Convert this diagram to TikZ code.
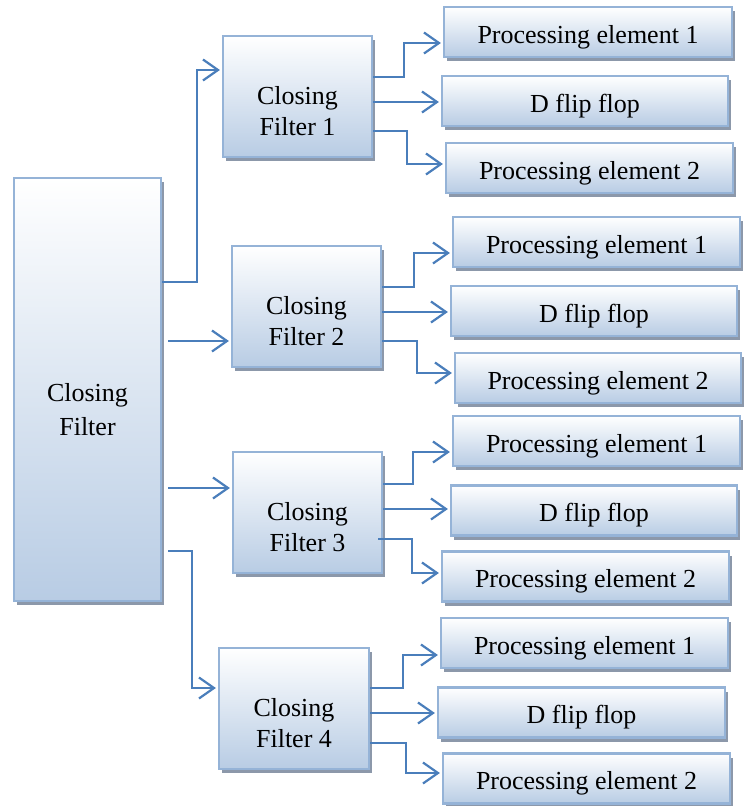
\documentclass[tikz,border=0pt]{standalone}
\usepackage{fontspec}
\setmainfont{Liberation Serif}
\usetikzlibrary{arrows.meta,shadows,calc}

\definecolor{bordcol}{RGB}{149,179,215}
\definecolor{fillbot}{RGB}{184,204,228}
\definecolor{shadcol}{RGB}{140,152,170}
\definecolor{conncol}{RGB}{74,126,187}

\tikzset{
  box/.style={draw=bordcol, line width=2.2pt, top color=white, bottom color=fillbot,
    drop shadow={shadow xshift=3pt, shadow yshift=-4pt, fill=shadcol, opacity=1},
    inner sep=0pt},
  fbox/.style={box, minimum width=149pt, minimum height=121pt},
  pbox/.style={box, minimum width=287pt, minimum height=50pt},
  lbl/.style={font=\fontsize{26}{31}\selectfont, align=center, text=black, inner sep=0pt},
  flbl/.style={label={[lbl,yshift=-15pt]center:{#1}}},
  plbl/.style={label={[lbl,yshift=-5pt]center:{#1}}},
  conn/.style={draw=conncol, line width=2.2pt, shorten >=2pt,
    -{Straight Barb[length=15pt,width=21pt,line width=2.2pt]}},
}

\begin{document}
\begin{tikzpicture}[x=1pt,y=-1pt]
\useasboundingbox (0,0) rectangle (745,806);

% main box
\node[box, minimum width=147pt, minimum height=423pt,
  label={[lbl,font=\fontsize{26}{34}\selectfont,yshift=-20pt]center:{Closing\\Filter}}]
  (main) at (87.5,389.5) {};

% closing filters
\node[fbox, flbl={Closing\\Filter 1}] (f1) at (297.5,96.5) {};
\node[fbox, flbl={Closing\\Filter 2}] (f2) at (306.5,306.5) {};
\node[fbox, flbl={Closing\\Filter 3}] (f3) at (307.5,512.5) {};
\node[fbox, minimum width=150pt, flbl={Closing\\Filter 4}] (f4) at (294,708.5) {};

% group 1
\node[pbox, minimum width=288pt, plbl={Processing element 1}] (p11) at (588,32) {};
\node[pbox, minimum width=286pt, plbl={D flip flop}] (d1) at (585,101) {};
\node[pbox, plbl={Processing element 2}] (p12) at (589.5,168) {};
% group 2
\node[pbox, plbl={Processing element 1}] (p21) at (596.5,242) {};
\node[pbox, minimum width=286pt, plbl={D flip flop}] (d2) at (594,311) {};
\node[pbox, minimum width=286pt, plbl={Processing element 2}] (p22) at (598,378) {};
% group 3
\node[pbox, plbl={Processing element 1}] (p31) at (596.5,441) {};
\node[pbox, minimum width=286pt, plbl={D flip flop}] (d3) at (594,510.5) {};
\node[pbox, plbl={Processing element 2}] (p32) at (585.5,576.5) {};
% group 4
\node[pbox, plbl={Processing element 1}] (p41) at (584.5,643) {};
\node[pbox, plbl={D flip flop}] (d4) at (581.5,712.5) {};
\node[pbox, plbl={Processing element 2}] (p42) at (586.5,778.5) {};

% main -> filters
\draw[conn] (main.east |- 0,282) -- (197,282) |- (f1.west |- 0,70);
\draw[conn] ([xshift=6pt]main.east |- 0,341) -- (f2.west |- 0,341);
\draw[conn] ([xshift=6pt]main.east |- 0,488) -- (f3.west |- 0,488);
\draw[conn] ([xshift=6pt]main.east |- 0,551) -- (192,551) |- (f4.west |- 0,688);

% filter 1 outputs
\draw[conn] (f1.east |- 0,77) -- (404,77) |- (p11.west |- 0,43);
\draw[conn] (f1.east |- 0,102) -- (d1.west |- 0,102);
\draw[conn] (f1.east |- 0,131) -- (407,131) |- (p12.west |- 0,164);
% filter 2 outputs
\draw[conn] (f2.east |- 0,287) -- (414,287) |- (p21.west |- 0,253);
\draw[conn] (f2.east |- 0,312) -- (d2.west |- 0,312);
\draw[conn] (f2.east |- 0,341) -- (417,341) |- (p22.west |- 0,373);
% filter 3 outputs
\draw[conn] (f3.east |- 0,484) -- (413,484) |- (p31.west |- 0,452);
\draw[conn] (f3.east |- 0,509) -- (d3.west |- 0,509);
\draw[conn] ([xshift=-5pt]f3.east |- 0,539) -- (412,539) |- (p32.west |- 0,573);
% filter 4 outputs
\draw[conn] (f4.east |- 0,688) -- (403,688) |- (p41.west |- 0,655);
\draw[conn] (f4.east |- 0,713) -- (d4.west |- 0,713);
\draw[conn] (f4.east |- 0,743) -- (406,743) |- (p42.west |- 0,773);
\end{tikzpicture}
\end{document}
